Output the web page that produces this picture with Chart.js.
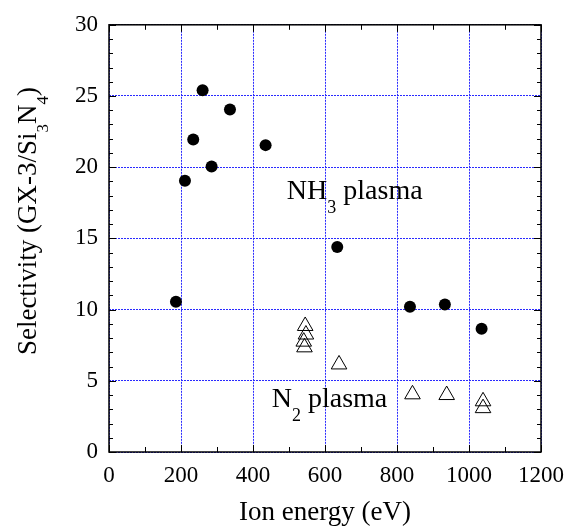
<!DOCTYPE html>
<html>
<head>
<meta charset="utf-8">
<script src="https://cdn.jsdelivr.net/npm/chart.js@4.4.0/dist/chart.umd.min.js"></script>
<style>
  html, body { margin: 0; padding: 0; background: #fff; }
</style>
</head>
<body>
<canvas id="chart" width="579" height="529"></canvas>
<script>
// NH3 plasma (filled circles)
const nh3Energy = [186, 211, 234, 260, 285, 336, 435, 634, 836, 933, 1035];
const nh3Sel = [10.55, 19.05, 21.95, 25.4, 20.05, 24.05, 21.55, 14.4, 10.2, 10.35, 8.65];

// N2 plasma (open triangles)
const n2Energy = [545, 547, 541, 543, 639, 843, 938, 1039, 1039];
const n2Sel = [8.85, 8.25, 7.75, 7.35, 6.15, 4.05, 4.0, 3.56, 3.08];

// axis ranges / ticks
const xTicks = [0, 200, 400, 600, 800, 1000, 1200];
const yTicks = [0, 5, 10, 15, 20, 25, 30];

// text labels placed in data units: [x, y, main, sub, rest]
const notes = [
    [494, 17.75, "NH", "3", " plasma"],
    [452, 3.17, "N", "2", " plasma"]
];

const serif = "'Liberation Serif', 'Times New Roman', serif";
const gridBlue = "#2a2aff";

Chart.defaults.font.family = serif;
Chart.defaults.color = "#000";

function toPoints(xs, ys) {
    return xs.map((x, i) => ({ x: x, y: ys[i] }));
}

// frame + small inward ticks on all four sides
const frameTicks = {
    id: "frameTicks",
    afterDatasetsDraw(chart) {
        const ctx = chart.ctx;
        const a = chart.chartArea;
        const xs = chart.scales.x, ys = chart.scales.y;
        ctx.save();
        ctx.strokeStyle = "#000";
        ctx.lineWidth = 1;
        ctx.beginPath();
        for (let v = 0; v <= 1200; v += 100) {
            const px = Math.round(xs.getPixelForValue(v)) + 0.5;
            const len = v % 200 === 0 ? 7 : 5;
            ctx.moveTo(px, a.bottom); ctx.lineTo(px, a.bottom - len);
            ctx.moveTo(px, a.top); ctx.lineTo(px, a.top + len);
        }
        for (let v = 0; v <= 30; v += 1) {
            const py = Math.round(ys.getPixelForValue(v)) + 0.5;
            const len = v % 5 === 0 ? 7 : 4;
            ctx.moveTo(a.left, py); ctx.lineTo(a.left + len, py);
            ctx.moveTo(a.right, py); ctx.lineTo(a.right - len, py);
        }
        ctx.stroke();
        ctx.lineWidth = 1.5;
        ctx.strokeRect(a.left, a.top, a.right - a.left, a.bottom - a.top);
        ctx.restore();
    }
};

// text with a subscript, at data coords
const labels = {
    id: "labels",
    afterDraw(chart) {
        const ctx = chart.ctx;
        const xs = chart.scales.x, ys = chart.scales.y;
        ctx.save();
        ctx.fillStyle = "#000";
        ctx.textBaseline = "alphabetic";
        ctx.textAlign = "left";
        notes.forEach(n => {
            let px = xs.getPixelForValue(n[0]);
            const py = ys.getPixelForValue(n[1]);
            ctx.font = "28px " + serif;
            ctx.fillText(n[2], px, py);
            px += ctx.measureText(n[2]).width;
            ctx.font = "18px " + serif;
            ctx.fillText(n[3], px, py + 14);
            px += ctx.measureText(n[3]).width;
            ctx.font = "28px " + serif;
            ctx.fillText(n[4], px, py);
        });

        // y axis title, rotated, with subscripts
        const parts = [
            ["Selectivity (GX-3/Si", false],
            ["3", true],
            ["N", false],
            ["4", true],
            [")", false]
        ];
        const big = "27px " + serif, small = "17px " + serif;
        let total = 0;
        parts.forEach(p => {
            ctx.font = p[1] ? small : big;
            total += ctx.measureText(p[0]).width;
        });
        ctx.translate(36, 221);
        ctx.rotate(-Math.PI / 2);
        let cx = -total / 2;
        parts.forEach(p => {
            ctx.font = p[1] ? small : big;
            ctx.fillText(p[0], cx, p[1] ? 12 : 0);
            cx += ctx.measureText(p[0]).width;
        });
        ctx.restore();
    }
};

new Chart(document.getElementById("chart"), {
    type: "scatter",
    data: {
        datasets: [
            {
                label: "N2 plasma",
                data: toPoints(n2Energy, n2Sel),
                pointStyle: "triangle",
                pointRadius: 9,
                pointBackgroundColor: "rgba(0,0,0,0)",
                pointBorderColor: "#000",
                pointBorderWidth: 1
            },
            {
                label: "NH3 plasma",
                data: toPoints(nh3Energy, nh3Sel),
                pointStyle: "circle",
                pointRadius: 6,
                pointBackgroundColor: "#000",
                pointBorderColor: "#000",
                pointBorderWidth: 0
            }
        ]
    },
    options: {
        responsive: false,
        animation: false,
        layout: { padding: { top: 20, right: 38, left: 0, bottom: 0 } },
        plugins: {
            legend: { display: false },
            tooltip: { enabled: false }
        },
        scales: {
            x: {
                type: "linear",
                min: 0,
                max: 1200,
                afterBuildTicks: s => { s.ticks = xTicks.map(v => ({ value: v })); },
                afterFit: s => { s.height = 77; },
                grid: { color: gridBlue, lineWidth: 1, drawTicks: false },
                border: { display: false, dash: [2, 1] },
                ticks: {
                    color: "#000",
                    font: { family: serif, size: 23 },
                    padding: 10,
                    maxRotation: 0,
                    callback: v => String(v)
                },
                title: {
                    display: true,
                    text: "Ion energy (eV)",
                    color: "#000",
                    font: { family: serif, size: 27 },
                    padding: { top: 2, bottom: 0 }
                }
            },
            y: {
                type: "linear",
                min: 0,
                max: 30,
                afterBuildTicks: s => { s.ticks = yTicks.map(v => ({ value: v })); },
                afterFit: s => { s.width = 109; },
                grid: { color: gridBlue, lineWidth: 1, drawTicks: false },
                border: { display: false, dash: [2, 1] },
                ticks: {
                    color: "#000",
                    font: { family: serif, size: 23 },
                    padding: 11,
                    callback: v => String(v)
                }
            }
        }
    },
    plugins: [frameTicks, labels]
});
</script>
</body>
</html>
